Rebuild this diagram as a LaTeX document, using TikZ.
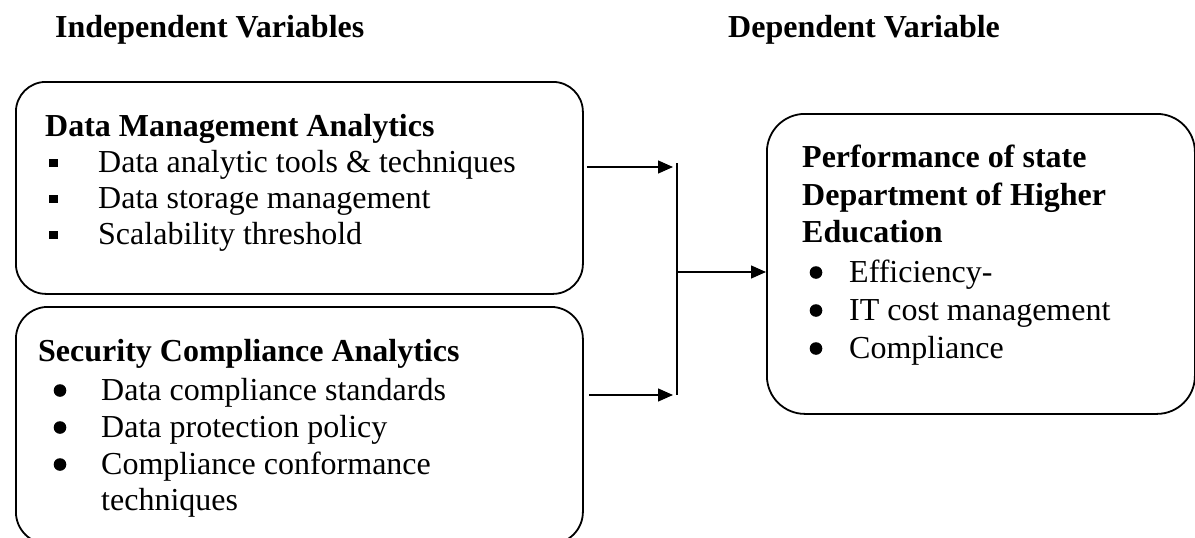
\documentclass[tikz,border=0pt]{standalone}
\usepackage{fontspec}
\setmainfont{Liberation Serif}
\usetikzlibrary{arrows.meta}
% small filled square used as list marker, in a box of given width
\newcommand{\sqbul}[1]{\makebox[#1pt][l]{\rule[5pt]{8.5pt}{8.5pt}}}
\begin{document}
\begin{tikzpicture}[x=1pt,y=-1pt,
  box/.style={draw,line width=1.8pt,rounded corners=#1,inner sep=0pt,anchor=north west},
  txt/.style={anchor=base west,inner sep=0pt,font=\fontsize{32}{37}\selectfont},
  hdr/.style={txt,font=\fontsize{32}{37}\selectfont\bfseries},
  conn/.style={draw,line width=1.3pt},
  arr/.style={-{Triangle[length=15pt,width=13pt]}},
  bul/.style={fill=black}]
\useasboundingbox (0,0) rectangle (1195,538);

% column headings
\node[hdr] (hind) at (55,37) {Independent Variables};
\node[hdr] (hdep) at (728,37) {Dependent Variable};

% independent variable: data management
\node[box=30pt,minimum width=567pt,minimum height=212pt] (dm) at (15,81) {};
\node[hdr] (dmt) at (45,136) {Data Management Analytics};
\node[txt] (dm1) at (49,172) {\sqbul{49}Data analytic tools \& techniques};
\node[txt] (dm2) at (49,208) {\sqbul{49}Data storage management};
\node[txt] (dm3) at (49,244) {\sqbul{49}Scalability threshold};

% independent variable: security compliance
\node[box=32pt,minimum width=567pt,minimum height=237pt] (sc) at (15,306) {};
\node[hdr] (sct) at (38,361) {Security Compliance Analytics};
\node[txt] (sc1) at (101,400) {Data compliance standards};
\node[txt] (sc2) at (101,437) {Data protection policy};
\node[txt] (sc3) at (101,474) {Compliance conformance};
\node[txt] (sc4) at (101,510) {techniques};
\foreach \n in {sc1,sc2,sc3}
  \fill[bul] ([xshift=-41pt,yshift=9.5pt]\n.base west) circle (6.3pt);

% dependent variable
\node[box=38pt,minimum width=428pt,minimum height=300pt] (perf) at (766,113) {};
\node[hdr] (pt1) at (802,167) {Performance of state};
\node[hdr] (pt2) at (802,205) {Department of Higher};
\node[hdr] (pt3) at (802,242) {Education};
\node[txt] (p1) at (849,282) {Efficiency-};
\node[txt] (p2) at (849,320) {IT cost management};
\node[txt] (p3) at (849,358) {Compliance};
\foreach \n in {p1,p2,p3}
  \fill[bul] ([xshift=-33pt,yshift=9.5pt]\n.base west) circle (6.3pt);

% connectors
\coordinate (jtop) at (677,163);
\coordinate (jt) at (677,167);
\coordinate (jm) at (677,272);
\coordinate (jb) at (677,395);
\draw[conn,arr,shorten <=3pt,shorten >=4pt] (dm.east |- jt) -- (jt);
\draw[conn,arr,shorten <=5pt,shorten >=4pt] (sc.east |- jb) -- (jb);
\draw[conn] (jtop) -- (jb);
\draw[conn,arr] (jm) -- (perf.west |- jm);
\end{tikzpicture}
\end{document}
